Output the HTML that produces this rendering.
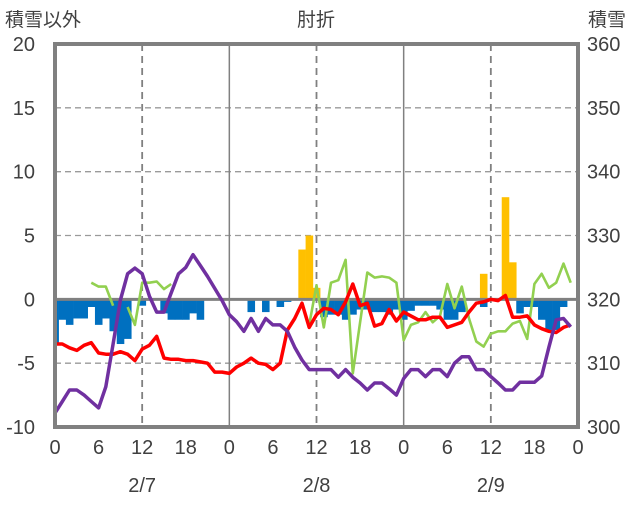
<!DOCTYPE html>
<html><head><meta charset="utf-8">
<style>
body{margin:0;background:#fff;}
svg text{font-family:"Liberation Sans","Noto Sans CJK JP",sans-serif;fill:#404040;}
</style></head>
<body>
<svg id="chart" width="636" height="501" xmlns="http://www.w3.org/2000/svg">
<defs><clipPath id="pc"><rect x="55" y="44" width="523" height="383"/></clipPath></defs>
<g id="grid"></g>
<g id="bars" clip-path="url(#pc)"></g>
<g id="lines" clip-path="url(#pc)"></g>
<g id="labels"></g>
<text x="5" y="26" font-size="19">積雪以外</text>
<text x="316" y="26" font-size="19" text-anchor="middle">肘折</text>
<text x="588" y="26" font-size="19">積雪</text>
</svg>
<script>
const hours = 72;
const leftTicks = [20,15,10,5,0,-5,-10];
const rightTicks = [360,350,340,330,320,310,300];
const xTickLabels = ["0","6","12","18","0","6","12","18","0","6","12","18","0"];
const dateLabels = ["2/7","2/8","2/9"];
const redSeries = [-3.5,-3.5,-3.8,-4.0,-3.6,-3.4,-4.2,-4.3,-4.3,-4.1,-4.3,-4.8,-3.9,-3.6,-2.9,-4.6,-4.7,-4.7,-4.8,-4.8,-4.9,-5.0,-5.7,-5.7,
-5.8,-5.3,-5.0,-4.6,-5.0,-5.1,-5.5,-5.0,-2.4,-1.5,-0.3,-2.2,-1.2,-0.7,-0.8,-1.2,-0.2,1.2,-0.5,-0.3,-2.1,-1.9,-0.8,-1.7,
-1.0,-1.3,-1.6,-1.6,-1.4,-1.4,-2.2,-2.0,-1.8,-1.0,-0.3,-0.2,0,-0.1,0.3,-1.4,-1.4,-1.3,-2.0,-2.3,-2.5,-2.6,-2.2,-2.0];
const greenSeries = [null,null,null,null,null,1.3,1.0,1.0,-0.5,null,-0.6,-2.0,1.3,1.3,1.4,0.8,1.2,
null,null,null,null,null,null,null,null,null,null,null,null,null,null,null,null,null,null,
-2.0,1.1,-2.2,1.3,1.5,3.1,-5.8,-1.8,2.1,1.7,1.8,1.7,1.3,
-3.2,-2.0,-1.8,-1.0,-1.8,-1.3,1.2,-0.7,1.0,-1.5,-3.3,-3.7,-2.7,-2.5,-2.5,-1.9,-1.7,-3.1,1.2,2.0,0.9,1.3,2.8,1.3];
const snowDepth = [302.2,304,305.8,305.8,305,304,303,306.3,313,319.9,324,324.9,324,320.5,318,318,321,324,325,327,325.3,323.6,321.7,319.8,
317.6,316.5,315,317,315,317,316,316,315,312.5,310.5,309,309,309,309,307.8,309,307.8,306.9,305.8,306.9,306.9,306,305,
307.6,309,309,307.9,309,309,307.9,310,311,311,309,309,307.9,306.9,305.8,305.8,307,307,307,308,312.5,316.8,317,315.7];
const negBars = [-3.4,-1.6,-2.0,-1.5,-1.5,-0.6,-2.0,-1.5,-2.5,-3.5,-3.1,0,-0.5,0,0,-1.1,-1.6,-1.6,-1.6,-1.1,-1.6,0,0,0,
0,0,0,-1.0,0,-1.0,0,-0.6,-0.2,0,0,0,0,-1.4,-1.2,-1.2,-1.6,-1.2,-0.8,-0.8,-1.0,-1.0,-1.2,-0.8,
-1.6,-0.9,-0.5,-0.5,-0.5,-0.8,-1.6,-1.6,-1.0,0,0,-0.6,0,0,0,0,-1.1,-0.6,-0.6,-1.6,-2.4,-2.4,-0.6,0];
const posBarHours = [34,35,36,59,62,63];
const posBarValues = [3.9,5.0,0.9,2.0,8.0,2.9];

const L=55,R=578,T=44,B=427;
const NS="http://www.w3.org/2000/svg";
const xs = h => L + (R-L)*h/hours;
const yl = v => B - (v+10)*(B-T)/30;
const yr = v => B - (v-300)*(B-T)/60;
function mk(tag, attrs, parent){const e=document.createElementNS(NS,tag);for(const k in attrs)e.setAttribute(k,attrs[k]);document.getElementById(parent).appendChild(e);return e;}

// horizontal grid
leftTicks.forEach(v=>{
  if(v===20||v===-10||v===0) return;
  const g=mk('line',{x1:L,x2:R,y1:yl(v),y2:yl(v),stroke:'#9a9a9a','stroke-width':1.3,'stroke-dasharray':'6,4'},'grid');
  
  
});
// vertical grid
for(let h=12;h<hours;h+=12){
  const day=(h%24===0);
  const g=mk('line',{x1:xs(h),x2:xs(h),y1:T,y2:B,stroke:'#808080','stroke-width':day?1.5:1.8,'stroke-dasharray':day?'none':'7,5'},'grid');
  
  
}
// bars
const bw=(R-L)/hours;
negBars.forEach((v,h)=>{
  if(v===0) return;
  const r=mk('rect',{x:xs(h)-bw/2,y:yl(0),width:bw+0.3,height:yl(v)-yl(0),fill:'#0070C0'},'bars');
  
  
});
posBarHours.forEach((h,i)=>{
  const v=posBarValues[i];
  const r=mk('rect',{x:xs(h)-bw/2,y:yl(v),width:bw+0.3,height:yl(0)-yl(v),fill:'#FFC000'},'bars');
  
  
});
// zero line
const z=mk('line',{x1:L,x2:R,y1:yl(0),y2:yl(0),stroke:'#808080','stroke-width':3},'bars');



function path(arr, yf){
  let d='',pen=false;
  arr.forEach((v,h)=>{ if(v===null){pen=false;return;} d+=(pen?'L':'M')+xs(h).toFixed(1)+','+yf(v).toFixed(1); pen=true;});
  return d;
}
const pg=mk('path',{d:path(greenSeries,yl),fill:'none',stroke:'#92D050','stroke-width':2.6,'stroke-linejoin':'round'},'lines');


const pr=mk('path',{d:path(redSeries,yl),fill:'none',stroke:'#FF0000','stroke-width':3.5,'stroke-linejoin':'round'},'lines');


const pp=mk('path',{d:path(snowDepth,yr),fill:'none',stroke:'#7030A0','stroke-width':3.5,'stroke-linejoin':'round'},'lines');



// border
const bd=mk('rect',{x:L,y:T,width:R-L,height:B-T,fill:'none',stroke:'#808080','stroke-width':4},'labels');



// tick labels
leftTicks.forEach(v=>{
  const t=mk('text',{x:35,y:yl(v)+7,'font-size':20,'text-anchor':'end'},'labels');t.textContent=v;
  
  
});
rightTicks.forEach(v=>{
  const t=mk('text',{x:587,y:yr(v)+7,'font-size':20},'labels');t.textContent=v;
  
  
});
xTickLabels.forEach((s,i)=>{
  const t=mk('text',{x:xs(i*6),y:454,'font-size':20,'text-anchor':'middle'},'labels');t.textContent=s;
  
  
});
dateLabels.forEach((s,i)=>{
  const t=mk('text',{x:xs(12+24*i),y:492,'font-size':20,'text-anchor':'middle'},'labels');t.textContent=s;
  
  
});
</script>
</body></html>
